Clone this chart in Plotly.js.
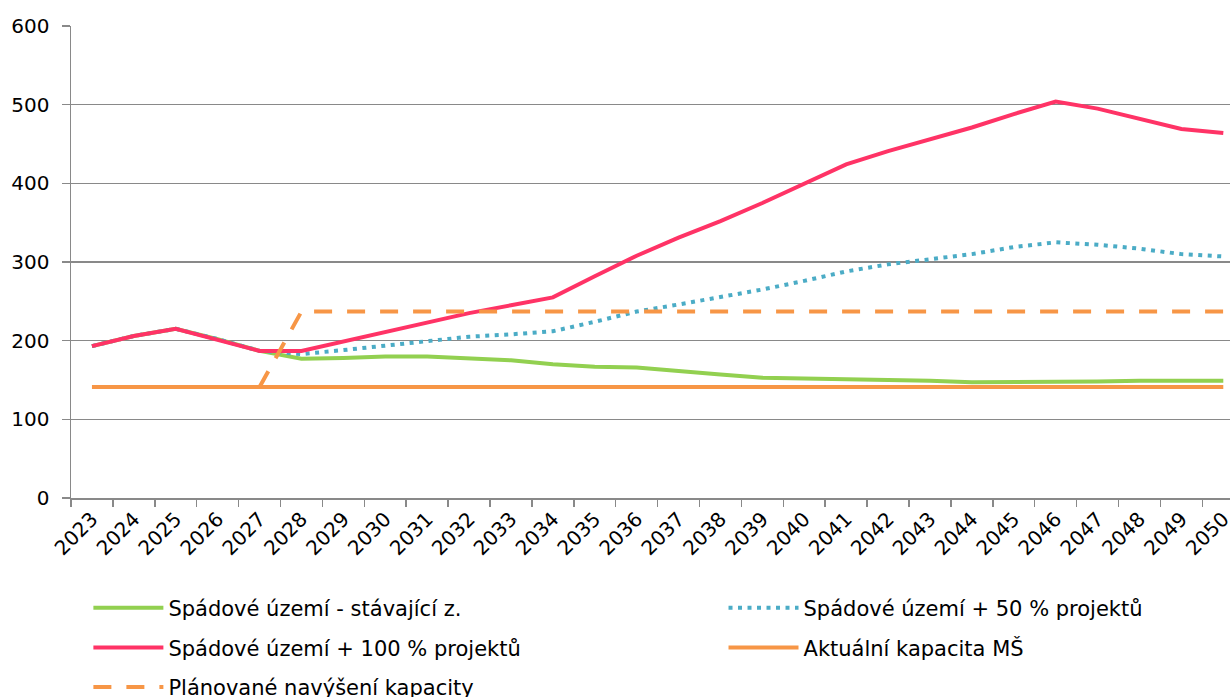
<!DOCTYPE html>
<html>
<head>
<meta charset="utf-8">
<script src="https://cdn.plot.ly/plotly-3.0.1.min.js"></script>
<style>
html,body{margin:0;padding:0;background:#fff;}
#chart{width:1230px;height:697px;}
</style>
</head>
<body>
<div id="chart"></div>
<script>
const years = ["2023","2024","2025","2026","2027","2028","2029","2030","2031","2032","2033","2034","2035","2036","2037","2038","2039","2040","2041","2042","2043","2044","2045","2046","2047","2048","2049","2050"];
const stavajici = [193,206,215,202,187,177,178,180,180,178,175,170,167,166,161,157,153,152,152,151,149,147,147,148,148,149,149,149];
const projekty50 = [193,206,215,202,187,183,188,194,200,205,208,212,224,237,246,255,265,276,288,297,304,310,319,325,322,317,310,307];
const projekty100 = [193,206,215,201,187,187,199,211,223,235,245,255,282,308,331,352,375,399,424,441,456,471,488,504,495,482,469,464];
const kapacita = [141,141,141,141,141,141,141,141,141,141,141,141,141,141,141,141,141,141,141,141,141,141,141,141,141,141,141,141];
const navyseni = [null,null,null,null,141,237,237,237,237,237,237,237,237,237,237,237,237,237,237,237,237,237,237,237,237,237,237,237];

const names = ["Spádové území - stávající z.","Spádové území + 50 % projektů","Spádové území + 100 % projektů","Aktuální kapacita MŠ","Plánované navýšení kapacity"];

const font = {family: "DejaVu Sans, Verdana, sans-serif", size: 20, color: "#000"};
const legendFont = {family: "DejaVu Sans, Verdana, sans-serif", size: 21, color: "#000"};

const traces = [
  {x: years, y: stavajici, name: names[0], type: "scatter", mode: "lines", line: {color: "#92D050", width: 4}, legend: "legend", legendgroup: "a"},
  {x: years, y: projekty50, name: names[1], type: "scatter", mode: "lines", line: {color: "#4BACC6", width: 4, dash: "4px,5.5px"}, legend: "legend2", legendgroup: "b"},
  {x: years, y: projekty100, name: names[2], type: "scatter", mode: "lines", line: {color: "#FF3366", width: 4}, legend: "legend", legendgroup: "c"},
  {x: years, y: kapacita, name: names[3], type: "scatter", mode: "lines", line: {color: "#F79646", width: 4}, legend: "legend2", legendgroup: "d"},
  {x: years, y: navyseni, name: names[4], type: "scatter", mode: "lines", line: {color: "#F79646", width: 4, dash: "18px,15px"}, legend: "legend", legendgroup: "e", connectgaps: false}
];

const legendBase = {
  orientation: "v", xanchor: "left", yanchor: "top",
  bgcolor: "rgba(0,0,0,0)", borderwidth: 0,
  font: legendFont, tracegroupgap: 9.3, traceorder: "grouped", itemwidth: 70
};

const layout = {
  width: 1230, height: 697,
  margin: {l: 71, r: 0, t: 26, b: 199, pad: 0, autoexpand: false},
  paper_bgcolor: "#fff", plot_bgcolor: "#fff",
  font: font,
  showlegend: true,
  xaxis: {
    type: "category", range: [-0.5, 27.16], tickangle: -45, automargin: false,
    tickson: "boundaries", ticks: "outside", ticklen: 7, tickwidth: 1.5, tickcolor: "#898989",
    showgrid: false, showline: true, linecolor: "#898989", linewidth: 1.5,
    tickfont: font, fixedrange: true
  },
  yaxis: {
    range: [0, 600], dtick: 100, tick0: 0, automargin: false,
    ticks: "outside", ticklen: 8, tickwidth: 1.5, tickcolor: "#898989",
    ticklabelstandoff: 8,
    showgrid: true, gridcolor: "#898989", gridwidth: 1.5,
    showline: true, linecolor: "#898989", linewidth: 1.5,
    zeroline: false, tickfont: font, fixedrange: true
  },
  legend: Object.assign({}, legendBase, {x: 0.015, y: -0.19}),
  legend2: Object.assign({}, legendBase, {x: 0.563, y: -0.19})
};

Plotly.newPlot("chart", traces, layout, {staticPlot: true, displayModeBar: false});
</script>
</body>
</html>
